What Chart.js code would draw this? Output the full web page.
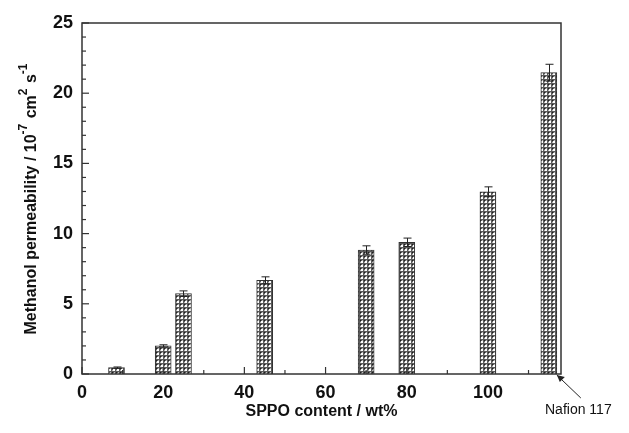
<!DOCTYPE html>
<html>
<head>
<meta charset="utf-8">
<script src="https://cdn.jsdelivr.net/npm/chart.js@4/dist/chart.umd.min.js"></script>
<style>
  html, body { margin: 0; padding: 0; background: #fff; }
  #wrap { width: 629px; height: 433px; }
</style>
</head>
<body>
<div id="wrap"><canvas id="permChart" width="629" height="433"></canvas></div>
<script>
// SPPO content (wt%) for each bar, the last one is Nafion 117
const contents = [8.5, 20, 25, 45, 70, 80, 100, 115];
const permeability = [0.45, 2.0, 5.72, 6.67, 8.83, 9.38, 12.98, 21.46];
const errors = [0.05, 0.08, 0.2, 0.25, 0.3, 0.3, 0.35, 0.6];
const xTickValues = [0, 20, 40, 60, 80, 100];
const yTickValues = [0, 5, 10, 15, 20, 25];

const ink = '#333';

// cross-hatch fill like the original figure
function makeHatch() {
    const c = document.createElement('canvas');
    c.width = 4; c.height = 4;
    const g = c.getContext('2d');
    g.fillStyle = '#5a5a5a';
    g.fillRect(0, 0, 4, 4);
    g.fillStyle = '#fff';
    g.fillRect(1, 1, 2, 2);
    g.fillStyle = '#bbb';
    g.fillRect(2, 0, 1, 1);
    g.fillRect(0, 2, 1, 1);
    g.fillStyle = '#1e1e1e';
    g.fillRect(0, 0, 1, 1);
    return g.createPattern(c, 'repeat');
}

const framePlugin = {
    id: 'frame',
    afterDatasetsDraw(chart) {
        const ctx = chart.ctx;
        const xs = chart.scales.x, ys = chart.scales.y;
        const area = chart.chartArea;
        ctx.save();
        // error bars
        ctx.strokeStyle = '#222';
        ctx.lineWidth = 1;
        contents.forEach((c, i) => {
            const px = Math.round(xs.getPixelForValue(c)) + 0.5;
            const top = ys.getPixelForValue(permeability[i] + errors[i]);
            const bot = ys.getPixelForValue(permeability[i] - errors[i]);
            ctx.beginPath();
            ctx.moveTo(px, top); ctx.lineTo(px, bot);
            ctx.moveTo(px - 4, top); ctx.lineTo(px + 4, top);
            ctx.moveTo(px - 4, bot); ctx.lineTo(px + 4, bot);
            ctx.stroke();
        });

        // frame
        ctx.strokeStyle = ink;
        ctx.lineWidth = 1.5;
        ctx.strokeRect(area.left, area.top, area.right - area.left, area.bottom - area.top);

        // inward ticks
        ctx.lineWidth = 1.2;
        for (let v = 0; v <= 25; v++) {
            const py = ys.getPixelForValue(v);
            const len = v % 5 === 0 ? 7 : 4;
            ctx.beginPath();
            ctx.moveTo(area.left, py); ctx.lineTo(area.left + len, py);
            ctx.stroke();
        }
        for (let v = 0; v <= 110; v += 10) {
            const px = xs.getPixelForValue(v);
            const len = v % 20 === 0 ? 7 : 4;
            ctx.beginPath();
            ctx.moveTo(px, area.bottom); ctx.lineTo(px, area.bottom - len);
            ctx.stroke();
        }

        // y axis title with superscripts
        ctx.fillStyle = '#111';
        ctx.translate(32, (area.top + area.bottom) / 2);
        ctx.rotate(-Math.PI / 2);
        const parts = [
            ['Methanol permeability / 10', 0],
            ['-7', 1],
            [' cm', 0],
            ['2', 1],
            [' s', 0],
            ['-1', 1]
        ];
        const big = 'bold 16px "Liberation Sans", Arial, sans-serif';
        const small = 'bold 12px "Liberation Sans", Arial, sans-serif';
        let total = 0;
        parts.forEach(p => { ctx.font = p[1] ? small : big; total += ctx.measureText(p[0]).width + (p[1] ? 1 : 0); });
        let cx = -total / 2;
        ctx.textBaseline = 'middle';
        ctx.textAlign = 'left';
        parts.forEach(p => {
            ctx.font = p[1] ? small : big;
            ctx.fillText(p[0], cx, p[1] ? -8 : 0);
            cx += ctx.measureText(p[0]).width + (p[1] ? 1 : 0);
        });
        ctx.restore();

        // Nafion 117 annotation
        ctx.save();
        const nx = xs.getPixelForValue(contents[7]) + 8;
        const ny = area.bottom + 1;
        ctx.strokeStyle = '#222';
        ctx.fillStyle = '#222';
        ctx.lineWidth = 1;
        ctx.beginPath();
        ctx.moveTo(nx + 24, ny + 23); ctx.lineTo(nx, ny);
        ctx.stroke();
        ctx.beginPath();
        ctx.moveTo(nx, ny);
        ctx.lineTo(nx + 8, ny + 2);
        ctx.lineTo(nx + 3, ny + 7);
        ctx.closePath();
        ctx.fill();
        ctx.font = '14px "Liberation Sans", Arial, sans-serif';
        ctx.fillStyle = '#111';
        ctx.textAlign = 'left';
        ctx.textBaseline = 'middle';
        ctx.fillText('Nafion 117', 545, 410);
        ctx.restore();
    }
};

const ctx = document.getElementById('permChart').getContext('2d');
const permChart = new Chart(ctx, {
    type: 'bar',
    data: {
        datasets: [{
            data: contents.map((c, i) => ({ x: c, y: permeability[i] })),
            backgroundColor: makeHatch(),
            borderColor: '#333',
            borderWidth: 1,
            barThickness: 16
        }]
    },
    options: {
        responsive: false,
        animation: false,
        layout: { padding: { top: 23, right: 68, left: 0, bottom: 0 } },
        plugins: { legend: { display: false }, tooltip: { enabled: false } },
        scales: {
            x: {
                type: 'linear',
                offset: false,
                min: 0,
                max: 118,
                grid: { display: false, offset: false },
                border: { display: false },
                afterBuildTicks: s => { s.ticks = xTickValues.map(v => ({ value: v })); },
                ticks: {
                    color: '#111',
                    padding: 0,
                    maxRotation: 0,
                    font: { family: '"Liberation Sans", Arial, sans-serif', size: 18, weight: 'bold' }
                },
                title: {
                    display: true,
                    text: 'SPPO content / wt%',
                    color: '#111',
                    padding: { top: 0, bottom: 12 },
                    font: { family: '"Liberation Sans", Arial, sans-serif', size: 16, weight: 'bold' }
                },
                afterFit: s => { s.height = 59; }
            },
            y: {
                min: 0,
                max: 25,
                grid: { display: false },
                border: { display: false },
                afterBuildTicks: s => { s.ticks = yTickValues.map(v => ({ value: v })); },
                ticks: {
                    color: '#111',
                    padding: 1,
                    font: { family: '"Liberation Sans", Arial, sans-serif', size: 18, weight: 'bold' }
                },
                afterFit: s => { s.width = 82; }
            }
        }
    },
    plugins: [framePlugin]
});
</script>
</body>
</html>
